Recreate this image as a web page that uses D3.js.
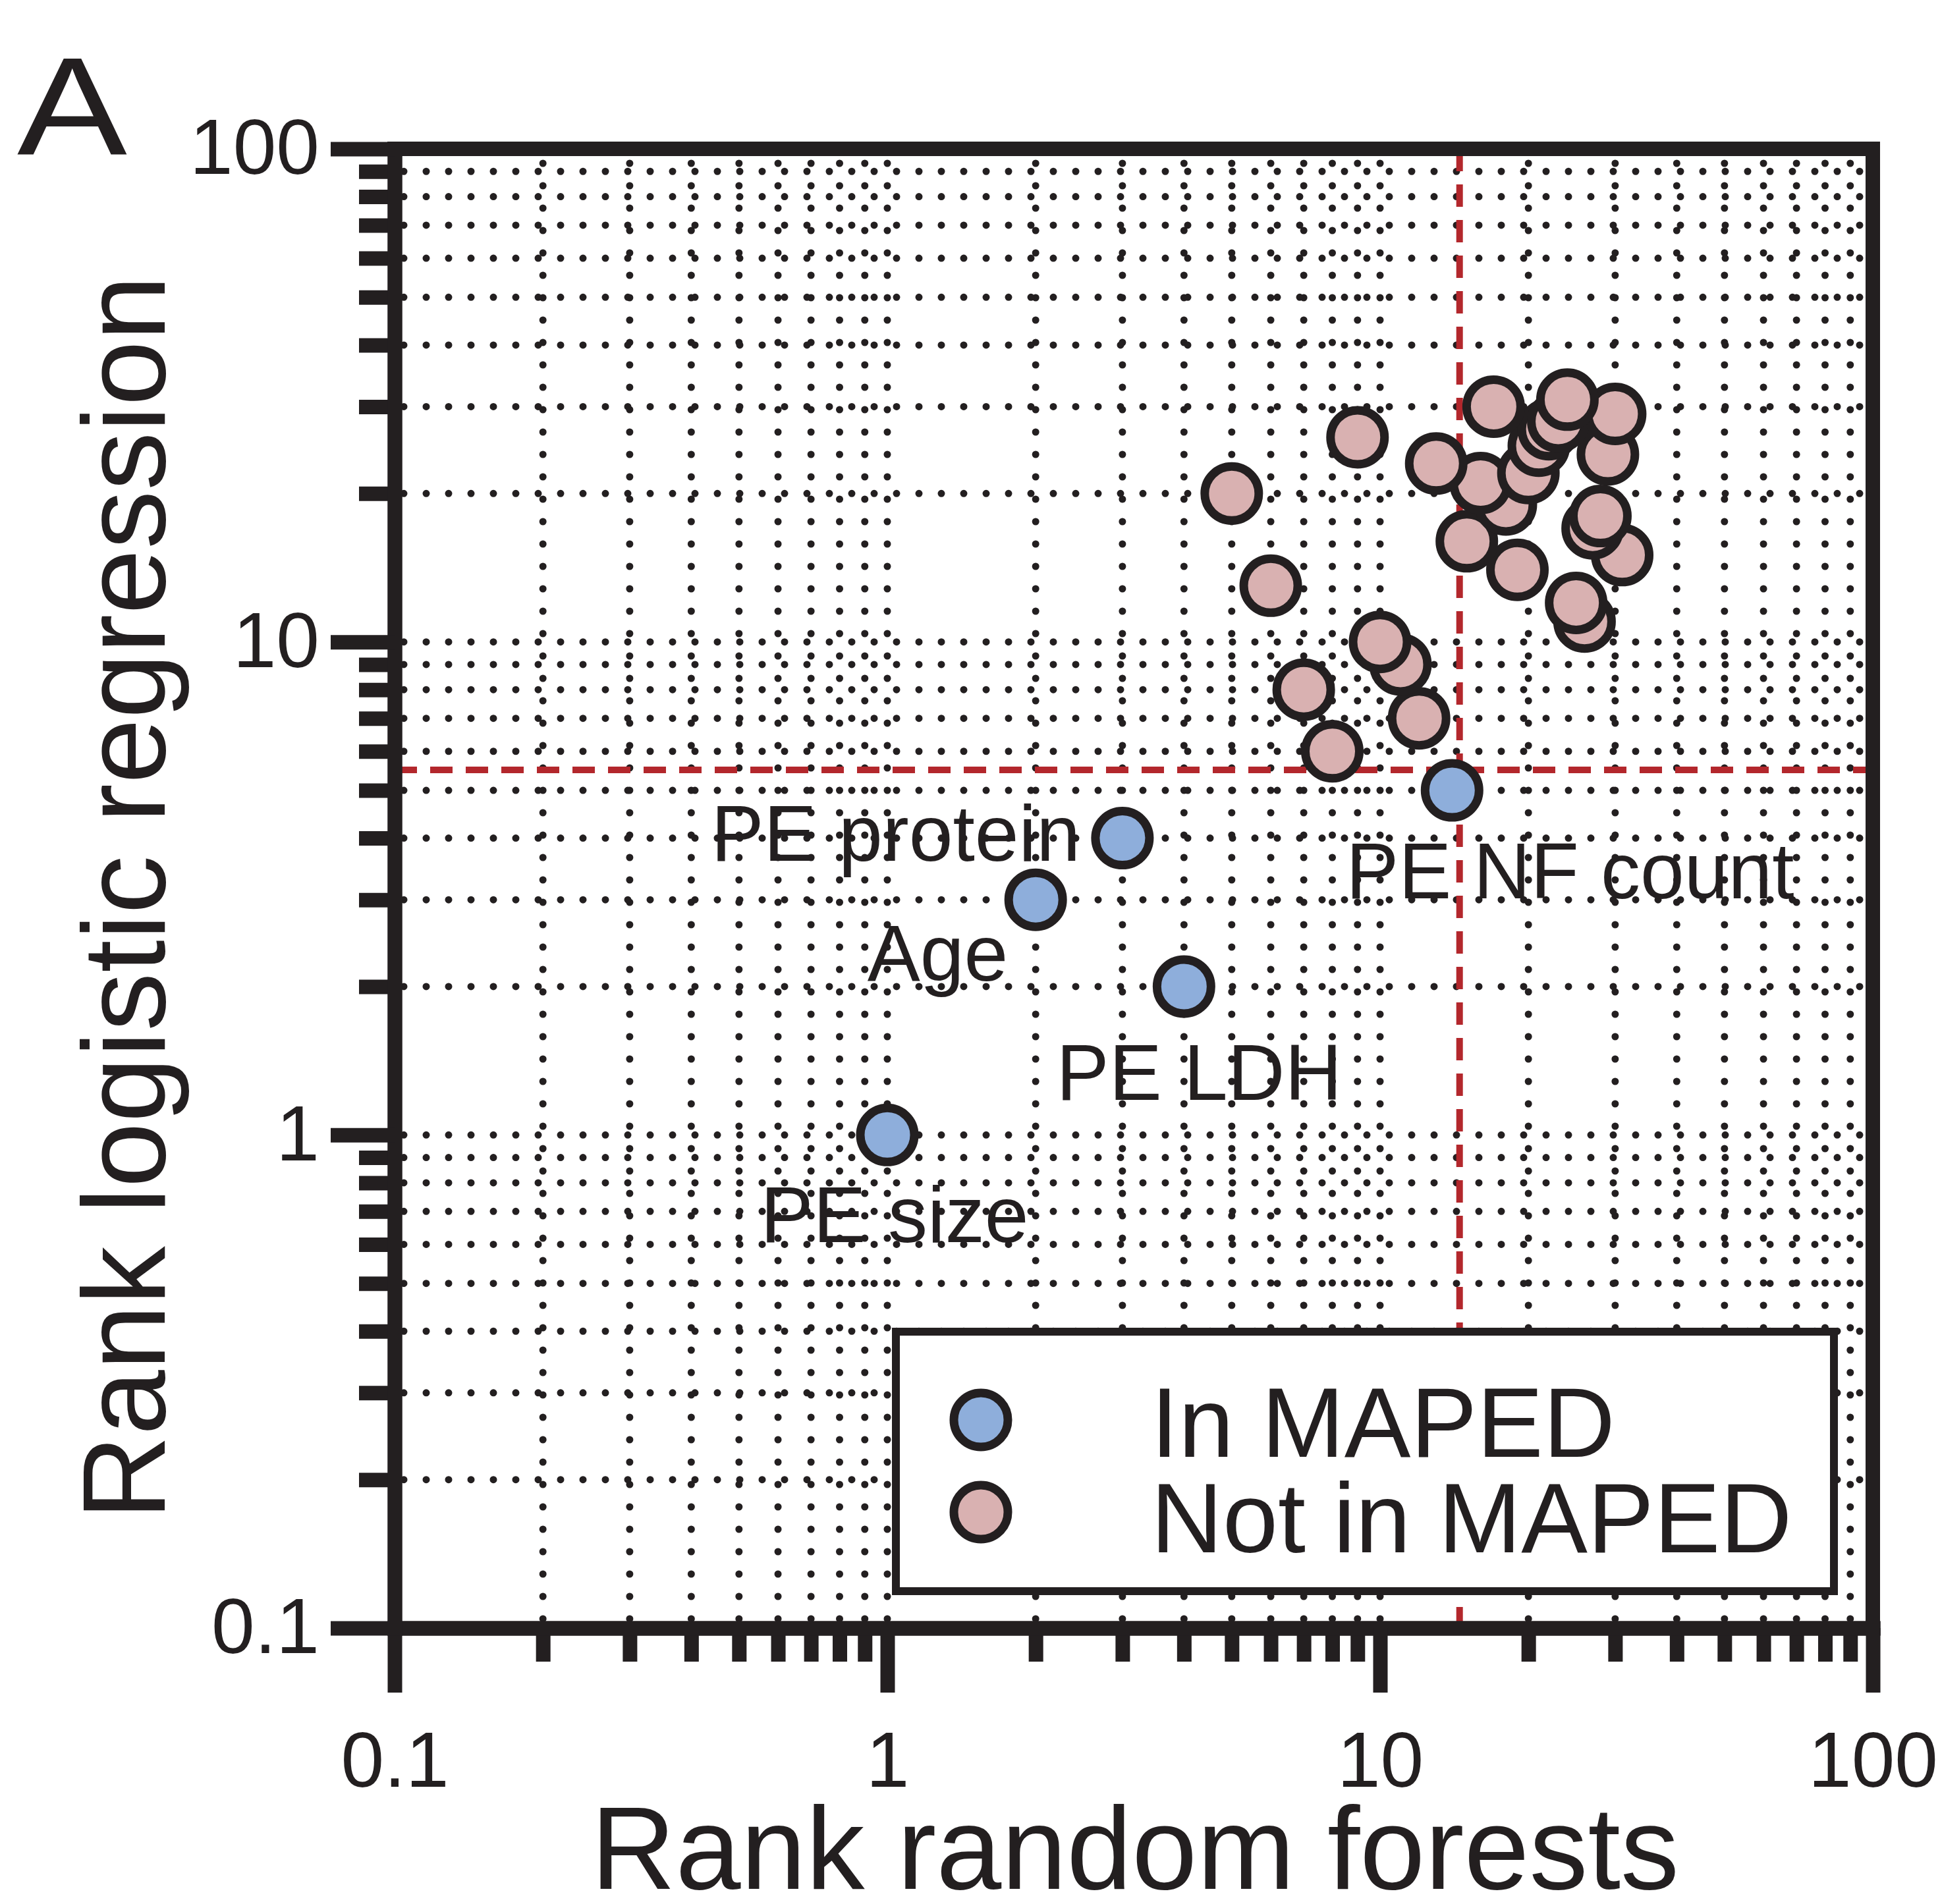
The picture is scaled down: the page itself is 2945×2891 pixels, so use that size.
<!DOCTYPE html>
<html lang="en">
	<head>
		<meta charset="utf-8">
		<title> Rank logistic regression vs rank random forests </title>
		<script type="text/javascript" src="https://cdn.jsdelivr.net/npm/d3@7"></script>
		<style>
			body { margin: 0; background: #fff; }
			text { font-family: "Liberation Sans", Arial, sans-serif; fill: #231f20; }
		</style>
	</head>
	<body>
		<script type="text/javascript">

			// variables that are in MAPED (blue)
			var inNames = ["PE size", "Age", "PE protein", "PE LDH", "PE NF count"];
			var inRF = [1, 2, 3, 4, 14];
			var inLR = [1, 3, 4, 2, 5];

			// variables not in MAPED (pink)
			var outRF = [5, 6, 7, 8, 9, 10, 11, 12, 13, 15, 16, 17, 18, 19, 20, 21, 22, 23, 24, 25, 26, 27, 28, 29, 30, 31];
			var outLR = [20, 13, 8, 6, 26, 10, 9, 7, 23, 16, 21, 30, 19, 14, 22, 25, 27, 28, 31, 12, 11, 17, 18, 24, 29, 15];

			// cut-off lines
			var cutRF = 14.5;
			var cutLR = 5.5;

			var majorTicks = [0.1, 1, 10, 100];
			var majorLabels = ["0.1", "1", "10", "100"];
			var minorTicks = [0.2, 0.3, 0.4, 0.5, 0.6, 0.7, 0.8, 0.9, 2, 3, 4, 5, 6, 7, 8, 9, 20, 30, 40, 50, 60, 70, 80, 90];
			var legendLabels = ["In MAPED", "Not in MAPED"];

			var ink = "#231f20";
			var blue = "#8eaedb";
			var pink = "#d9b1b1";
			var red = "#b3272c";

			var width = 2945, height = 2891;
			var plot = {left: 599, right: 2843, top: 226, bottom: 2472};

			var svg = d3.select("body").append("svg")
						.attr("width", width)
						.attr("height", height);

			var xscale = d3.scaleLog().domain([0.1, 100]).range([plot.left, plot.right]);
			var yscale = d3.scaleLog().domain([0.1, 100]).range([plot.bottom, plot.top]);

			// dotted grid
			var gridVals = minorTicks.concat([1, 10]);
			var grid = svg.append("g")
						.attr("stroke", ink)
						.attr("stroke-width", 11)
						.attr("stroke-linecap", "round")
						.attr("stroke-dasharray", "0,34");
			grid.selectAll(".gx").data(gridVals).enter().append("line")
				.attr("x1", function(d){ return xscale(d); })
				.attr("x2", function(d){ return xscale(d); })
				.attr("y1", plot.bottom - 14)
				.attr("y2", plot.top);
			grid.selectAll(".gy").data(gridVals).enter().append("line")
				.attr("y1", function(d){ return yscale(d); })
				.attr("y2", function(d){ return yscale(d); })
				.attr("x1", plot.left + 14)
				.attr("x2", plot.right);

			// red dashed cut-offs
			svg.append("line")
				.attr("x1", xscale(cutRF)).attr("x2", xscale(cutRF))
				.attr("y1", plot.top).attr("y2", plot.bottom)
				.attr("stroke", red).attr("stroke-width", 10)
				.attr("stroke-dasharray", "34,20");
			svg.append("line")
				.attr("x1", plot.left).attr("x2", plot.right)
				.attr("y1", yscale(cutLR)).attr("y2", yscale(cutLR))
				.attr("stroke", red).attr("stroke-width", 10)
				.attr("stroke-dasharray", "34,20");

			// legend box (covers grid)
			var legend = svg.append("g");
			legend.append("rect")
				.attr("x", 1360).attr("y", 2022)
				.attr("width", 1424).attr("height", 394)
				.attr("fill", "#fff")
				.attr("stroke", ink)
				.attr("stroke-width", 12);
			legend.selectAll("circle").data(legendLabels).enter().append("circle")
				.attr("cx", 1489)
				.attr("cy", function(d, i){ return 2156 + i * 140; })
				.attr("r", 41)
				.attr("fill", function(d, i){ return i == 0 ? blue : pink; })
				.attr("stroke", ink)
				.attr("stroke-width", 13);
			legend.selectAll("text").data(legendLabels).enter().append("text")
				.attr("x", 1747)
				.attr("y", function(d, i){ return 2212 + i * 145; })
				.attr("font-size", 151)
				.text(function(d){ return d; });

			// axes
			function styleAxis(g) {
				g.select(".domain").attr("stroke", ink).attr("stroke-width", 22).attr("stroke-linecap", "square");
				g.selectAll(".tick line").attr("stroke", ink).attr("stroke-width", 22);
				g.selectAll(".tick text").attr("fill", ink).attr("font-size", 118)
					.attr("font-family", "Liberation Sans, Arial, sans-serif");
			}

			var xMinor = d3.axisBottom(xscale).tickValues(minorTicks).tickSize(51).tickSizeOuter(0).tickFormat("");
			var xMajor = d3.axisBottom(xscale).tickValues(majorTicks).tickSize(98).tickSizeOuter(0).tickPadding(59)
							.tickFormat(function(d, i){ return majorLabels[i]; });
			var yMinor = d3.axisLeft(yscale).tickValues(minorTicks).tickSize(54).tickSizeOuter(0).tickFormat("");
			var yMajor = d3.axisLeft(yscale).tickValues(majorTicks).tickSize(97).tickSizeOuter(0).tickPadding(17)
							.tickFormat(function(d, i){ return majorLabels[i]; });

			svg.append("g").attr("transform", "translate(0," + plot.bottom + ")").call(xMinor).call(styleAxis);
			svg.append("g").attr("transform", "translate(0," + plot.bottom + ")").call(xMajor).call(styleAxis);
			svg.append("g").attr("transform", "translate(" + plot.left + ",0)").call(yMinor).call(styleAxis);
			svg.append("g").attr("transform", "translate(" + plot.left + ",0)").call(yMajor).call(styleAxis);

			// top and right frame
			svg.append("path")
				.attr("d", "M" + plot.left + "," + plot.top + "H" + plot.right + "V" + plot.bottom)
				.attr("fill", "none")
				.attr("stroke", ink)
				.attr("stroke-width", 22)
				.attr("stroke-linecap", "square");

			// points: not in MAPED, drawn low rank first
			var outData = outRF.map(function(d, i){ return [d, outLR[i]]; })
							.sort(function(a, b){ return a[1] - b[1]; });
			svg.append("g").selectAll("circle")
				.data(outData)
				.enter()
				.append("circle")
				.attr("cx", function(d){ return xscale(d[0]); })
				.attr("cy", function(d){ return yscale(d[1]); })
				.attr("r", 41)
				.attr("fill", pink)
				.attr("stroke", ink)
				.attr("stroke-width", 13);

			var inData = inRF.map(function(d, i){ return [d, inLR[i], inNames[i]]; });
			svg.append("g").selectAll("circle")
				.data(inData)
				.enter()
				.append("circle")
				.attr("cx", function(d){ return xscale(d[0]); })
				.attr("cy", function(d){ return yscale(d[1]); })
				.attr("r", 41)
				.attr("fill", blue)
				.attr("stroke", ink)
				.attr("stroke-width", 13);

			// label placement: anchor, dx, dy from the point
			var labelPos = {
				"PE size": ["middle", 11, 163],
				"Age": ["end", -42, 123],
				"PE protein": ["end", -64, 34],
				"PE LDH": ["middle", 23, 172],
				"PE NF count": ["start", -161, 164]
			};
			svg.append("g").selectAll("text")
				.data(inData)
				.enter()
				.append("text")
				.attr("x", function(d){ return xscale(d[0]) + labelPos[d[2]][1]; })
				.attr("y", function(d){ return yscale(d[1]) + labelPos[d[2]][2]; })
				.attr("text-anchor", function(d){ return labelPos[d[2]][0]; })
				.attr("font-size", 120)
				.text(function(d){ return d[2]; });

			// titles
			svg.append("text")
				.attr("x", 1723).attr("y", 2868)
				.attr("text-anchor", "middle")
				.attr("font-size", 178)
				.text("Rank random forests");
			svg.append("text")
				.attr("transform", "translate(250,1363) rotate(-90)")
				.attr("text-anchor", "middle")
				.attr("font-size", 178)
				.text("Rank logistic regression");
			svg.append("text")
				.attr("transform", "translate(26,235) scale(1.18,1)")
				.attr("font-size", 212)
				.text("A");

		</script>
	</body>
</html>
